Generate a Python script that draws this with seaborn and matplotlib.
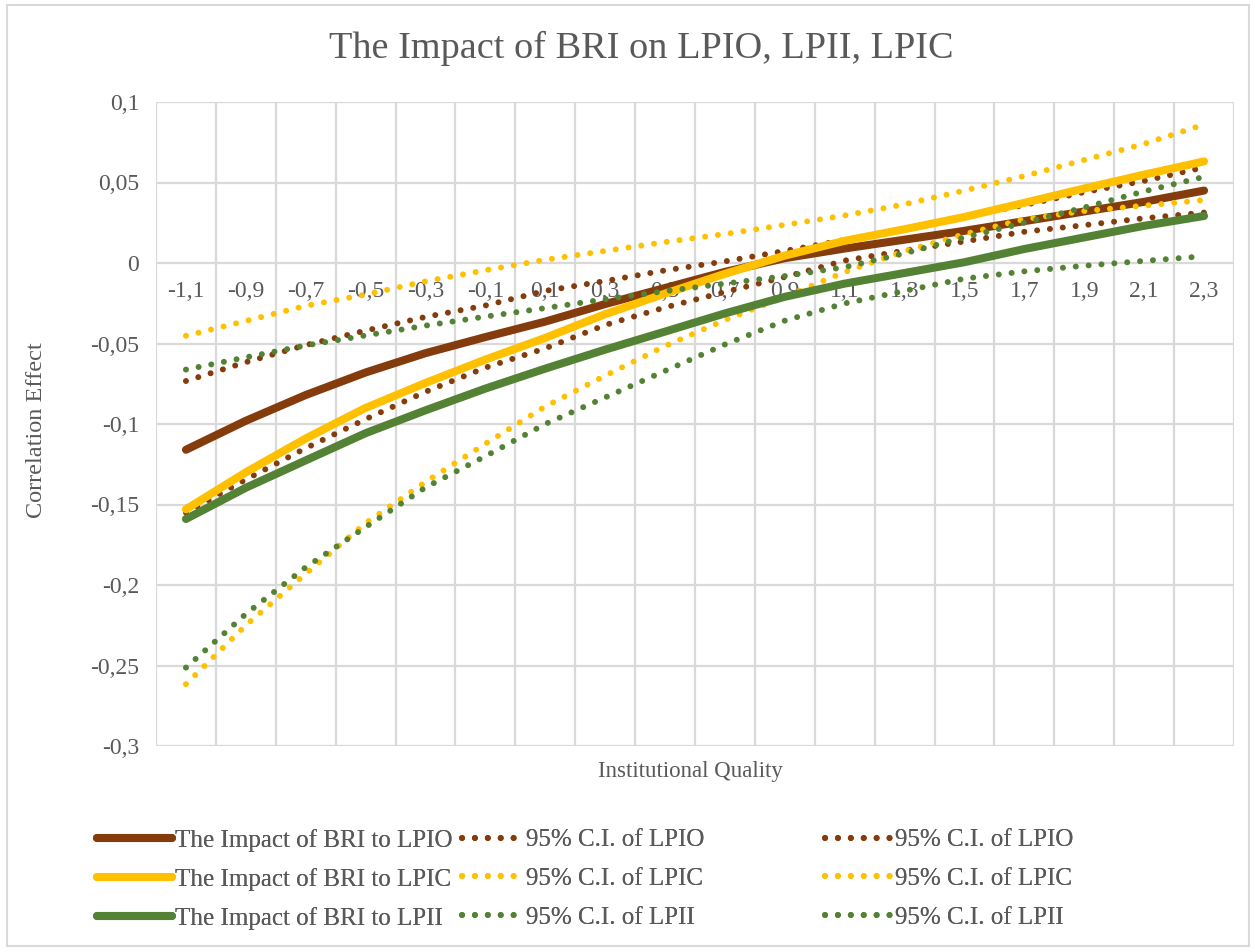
import matplotlib
matplotlib.use("Agg")
import matplotlib.pyplot as plt
from matplotlib.lines import Line2D
from matplotlib.patches import Rectangle
from matplotlib.ticker import FixedLocator, FixedFormatter
import pandas as pd
import seaborn as sns

# ---------------- data ----------------
iq_values = [-1.1, -0.9, -0.7, -0.5, -0.3, -0.1, 0.1, 0.3, 0.5, 0.7, 0.9, 1.1,
             1.3, 1.5, 1.7, 1.9, 2.1, 2.3]
iq_labels = ["-1,1", "-0,9", "-0,7", "-0,5", "-0,3", "-0,1", "0,1", "0,3", "0,5",
             "0,7", "0,9", "1,1", "1,3", "1,5", "1,7", "1,9", "2,1", "2,3"]

lpio = [-0.116, -0.098, -0.082, -0.068, -0.056, -0.046, -0.0364, -0.0255, -0.0155,
        -0.0055, 0.003, 0.009, 0.0145, 0.020, 0.026, 0.032, 0.038, 0.045]
lpio_ci_a = [-0.0733, -0.0616, -0.051, -0.042, -0.0335, -0.0264, -0.0173, -0.0112, -0.0046,
             0.001, 0.0075, 0.0143, 0.021, 0.029, 0.036, 0.044, 0.051, 0.0594]
lpio_ci_b = [-0.155, -0.1345, -0.115, -0.097, -0.080, -0.065, -0.053, -0.0385, -0.0276,
             -0.018, -0.0087, 0.0015, 0.0077, 0.0134, 0.0194, 0.0235, 0.0278, 0.0313]

lpic = [-0.153, -0.130, -0.109, -0.090, -0.0745, -0.060, -0.0465, -0.0318, -0.019,
        -0.0067, 0.0046, 0.0138, 0.021, 0.0286, 0.0374, 0.0463, 0.0549, 0.0631]
lpic_ci_a = [-0.0452, -0.036, -0.0266, -0.0196, -0.0114, -0.0045, 0.002, 0.0075, 0.013,
             0.018, 0.0237, 0.0295, 0.0365, 0.045, 0.054, 0.064, 0.074, 0.086]
lpic_ci_b = [-0.2616, -0.225, -0.193, -0.1616, -0.136, -0.1123, -0.0891, -0.070, -0.0516,
             -0.0354, -0.021, -0.0056, 0.0073, 0.0179, 0.0272, 0.0323, 0.0356, 0.0391]

lpii = [-0.159, -0.1396, -0.1226, -0.1057, -0.0915, -0.078, -0.0656, -0.0538, -0.0426,
        -0.0313, -0.021, -0.0128, -0.0062, 0.0005, 0.0087, 0.0159, 0.0231, 0.0292]
lpii_ci_a = [-0.0662, -0.0586, -0.0512, -0.045, -0.0389, -0.0333, -0.028, -0.0225, -0.0175,
             -0.0128, -0.0081, -0.0026, 0.006, 0.0159, 0.025, 0.0345, 0.0445, 0.0535]
lpii_ci_b = [-0.2513, -0.218, -0.189, -0.164, -0.1394, -0.120, -0.100, -0.0835, -0.067,
             -0.0506, -0.0358, -0.0251, -0.0173, -0.0097, -0.0052, -0.0017, 0.0013, 0.0042]

y_ticks = [0.1, 0.05, 0.0, -0.05, -0.1, -0.15, -0.2, -0.25, -0.3]
y_tick_labels = ["0,1", "0,05", "0", "-0,05", "-0,1", "-0,15", "-0,2", "-0,25", "-0,3"]

series = [
    ("The Impact of BRI to LPIO", lpio, "#843C0C", "solid"),
    ("95% C.I. of LPIO", lpio_ci_a, "#843C0C", "dot"),
    ("95% C.I. of LPIO ", lpio_ci_b, "#843C0C", "dot"),
    ("The Impact of BRI to LPIC", lpic, "#FFC000", "solid"),
    ("95% C.I. of LPIC", lpic_ci_a, "#FFC000", "dot"),
    ("95% C.I. of LPIC ", lpic_ci_b, "#FFC000", "dot"),
    ("The Impact of BRI to LPII", lpii, "#548235", "solid"),
    ("95% C.I. of LPII", lpii_ci_a, "#548235", "dot"),
    ("95% C.I. of LPII ", lpii_ci_b, "#548235", "dot"),
]

# ---------------- style ----------------
sns.set_theme(style="white")
plt.rcParams["font.family"] = ["Liberation Serif", "DejaVu Serif"]
TXT = "#595959"
GRID = "#D9D9D9"

W, H = 1255, 952
fig = plt.figure(figsize=(W / 100, H / 100), dpi=100)
fig.patch.set_facecolor("white")
ax = fig.add_axes([156 / W, 1 - 746 / H, (1234 - 156) / W, (746 - 102) / H])

SOLID_LW = 5.8
DOT_LW = 4.3
DOT_STYLE = (0, (0.01, 2.15))

handles = {}
for name, vals, col, kind in series:
    df = pd.DataFrame({"iq": iq_values, "val": vals})
    if kind == "solid":
        sns.lineplot(data=df, x="iq", y="val", ax=ax, color=col, lw=SOLID_LW,
                     solid_capstyle="round", solid_joinstyle="round", zorder=3)
        handles[name] = Line2D([], [], color=col, lw=SOLID_LW, solid_capstyle="round")
    else:
        sns.lineplot(data=df, x="iq", y="val", ax=ax, color=col, lw=DOT_LW,
                     linestyle=DOT_STYLE, dash_capstyle="round", zorder=3)
        handles[name] = Line2D([], [], color=col, lw=DOT_LW, linestyle=DOT_STYLE,
                               dash_capstyle="round")

ax.set_xlim(-1.2, 2.4)
ax.set_ylim(-0.3, 0.1)

# grid: vertical lines between categories, horizontal at y ticks
boundaries = [v - 0.1 for v in iq_values] + [iq_values[-1] + 0.1]
ax.xaxis.set_minor_locator(FixedLocator(boundaries))
ax.xaxis.set_major_locator(FixedLocator(iq_values))
ax.xaxis.set_major_formatter(FixedFormatter(iq_labels))
ax.yaxis.set_major_locator(FixedLocator(y_ticks))
ax.yaxis.set_major_formatter(FixedFormatter(y_tick_labels))
ax.grid(False)
ax.grid(True, which="minor", axis="x", color=GRID, lw=1.6, zorder=0)
ax.grid(True, which="major", axis="y", color=GRID, lw=1.6, zorder=0)
ax.set_axisbelow(True)

for s in ax.spines.values():
    s.set_visible(False)
ax.spines["bottom"].set_position(("data", 0))

ax.tick_params(axis="x", which="both", length=0, pad=13, labelsize=17, labelcolor=TXT)
ax.tick_params(axis="y", which="both", length=0, pad=12, labelsize=17, labelcolor=TXT)

ax.set_xlabel("")
ax.set_ylabel("Correlation Effect", fontsize=17.5, color=TXT)
ax.yaxis.set_label_coords(-0.101, 0.49)
fig.text(690 / W, 1 - 771 / H, "Institutional Quality", fontsize=16.5, color=TXT,
         ha="center", va="center")

fig.text(641 / W, 1 - 58 / H, "The Impact of BRI on LPIO, LPII, LPIC", fontsize=27.5,
         color=TXT, ha="center", va="baseline")

# legends (three columns, positioned like the original)
cols = [
    (["The Impact of BRI to LPIO", "The Impact of BRI to LPIC", "The Impact of BRI to LPII"],
     97, 3.0, 0.12),
    (["95% C.I. of LPIO", "95% C.I. of LPIC", "95% C.I. of LPII"], 462, 2.35, 0.2),
    (["95% C.I. of LPIO ", "95% C.I. of LPIC ", "95% C.I. of LPII "], 825, 2.6, 0.2),
]
for keys, x0, hl, tp in cols:
    leg = fig.legend([handles[k] for k in keys], [k.strip() for k in keys],
                     loc="upper left", bbox_to_anchor=(x0 / W, 1 - 829 / H),
                     bbox_transform=fig.transFigure, frameon=False, fontsize=18,
                     handlelength=hl, handletextpad=tp, labelspacing=0.64,
                     borderpad=0, borderaxespad=0, labelcolor=TXT)
    fig.add_artist(leg)

# chart border
fig.add_artist(Rectangle((7 / W, 1 - 946 / H), (1249 - 7) / W, (946 - 5) / H,
                         transform=fig.transFigure, fill=False, edgecolor=GRID, lw=1.5))

fig.savefig("out.png", dpi=100)
